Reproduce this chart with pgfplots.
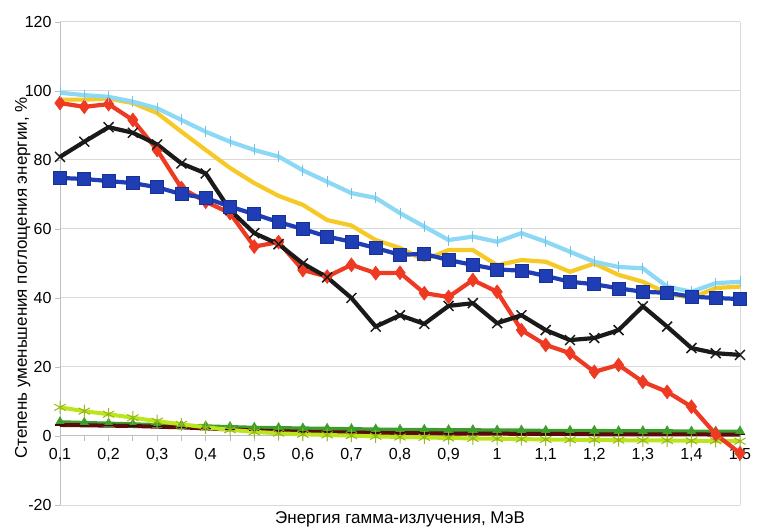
\documentclass[border=0pt]{standalone}
\usepackage{fontspec}
\setmainfont{Liberation Sans}
\usepackage{pgfplots}
\usepackage{pgfplotstable}
\pgfplotsset{compat=1.18}

\definecolor{cLB}{HTML}{8DD8F5}
\definecolor{cLBm}{HTML}{6FC3E6}
\definecolor{cYel}{HTML}{F6C927}
\definecolor{cRed}{HTML}{EE3A22}
\definecolor{cBlk}{HTML}{1A1A1A}
\definecolor{cBlue}{HTML}{1F3DB5}
\definecolor{cGrn}{HTML}{3E9E2B}
\definecolor{cLGr}{HTML}{BBE61E}
\definecolor{cMar}{HTML}{5A0C0C}
\definecolor{gridc}{HTML}{D9D9D9}
\definecolor{axc}{HTML}{BFBFBF}

\pgfplotstableread{
x    lb    yel   blue  red   blk   grn  lgr   mar
0.10 99.5  97.5  74.8  96.5  80.9  4.0  8.3   3.2
0.15 98.8  97.5  74.5  95.4  85.3  3.8  7.2   3.1
0.20 98.3  97.8  73.9  96.2  89.5  3.6  6.3   3.0
0.25 96.9  96.5  73.3  91.6  87.9  3.4  5.3   2.9
0.30 95.0  93.6  72.1  82.9  84.5  3.2  4.3   2.7
0.35 91.6  88.2  70.1  71.9  79.0  3.0  3.4   2.5
0.40 88.2  82.9  69.0  67.9  76.1  2.8  2.5   2.2
0.45 85.3  77.7  66.5  64.6  65.5  2.6  1.8   1.9
0.50 82.9  73.3  64.3  54.9  58.8  2.4  1.2   1.6
0.55 81.0  69.6  62.0  56.2  55.6  2.3  0.8   1.4
0.60 77.0  67.0  60.0  48.1  50.0  2.2  0.5   1.2
0.65 73.7  62.6  57.8  46.2  46.0  2.1  0.3   1.1
0.70 70.4  61.0  56.3  49.6  40.0  2.0  0.1   1.0
0.75 69.0  56.8  54.5  47.2  31.7  1.9  -0.1  0.9
0.80 64.6  54.5  52.5  47.3  35.0  1.8  -0.3  0.8
0.85 60.7  51.0  52.8  41.4  32.5  1.8  -0.4  0.8
0.90 56.8  53.9  51.0  40.3  37.7  1.7  -0.6  0.7
0.95 57.8  53.9  49.6  45.2  38.5  1.7  -0.7  0.7
1.00 56.3  49.5  48.3  41.8  32.7  1.6  -0.8  0.7
1.05 58.8  51.0  47.9  30.7  35.0  1.6  -0.9  0.6
1.10 56.3  50.5  46.4  26.4  30.7  1.5  -1.0  0.6
1.15 53.4  47.6  44.7  24.0  27.8  1.5  -1.1  0.6
1.20 50.5  50.0  44.0  18.6  28.4  1.5  -1.1  0.5
1.25 49.0  46.7  42.8  20.6  30.7  1.4  -1.2  0.5
1.30 48.6  44.7  41.8  15.7  37.6  1.4  -1.3  0.5
1.35 43.3  41.4  41.5  12.8  31.7  1.4  -1.3  0.5
1.40 41.8  40.0  40.4  8.5   25.5  1.3  -1.4  0.5
1.45 44.3  42.9  40.0  0.5   24.0  1.3  -1.4  0.4
1.50 44.7  43.3  39.7  -5.0  23.5  1.3  -1.5  0.4
}\data

\begin{document}
\fontsize{16pt}{19pt}\selectfont
\begin{tikzpicture}
\path[use as bounding box] (0,0) rectangle (757pt,527pt);
\begin{axis}[
  scale only axis, width=680pt, height=483pt,
  anchor=south west, at={(60pt,22pt)},
  xmin=0.1, xmax=1.5, ymin=-20, ymax=120,
  clip=false,
  axis x line*=middle, axis y line*=left,
  hide obscured x ticks=false, hide obscured y ticks=false,
  axis line style={axc, line width=1pt},
  xtick={0.1,0.2,0.3,0.4,0.5,0.6,0.7,0.8,0.9,1,1.1,1.2,1.3,1.4,1.5},
  minor xtick={0.15,0.25,0.35,0.45,0.55,0.65,0.75,0.85,0.95,1.05,1.15,1.25,1.35,1.45},
  ytick={-20,0,20,40,60,80,100,120},
  tick align=outside,
  major tick length=5pt, minor tick length=5pt,
  every tick/.style={axc, line width=0.8pt},
  ymajorgrids, major grid style={gridc, line width=1pt},
  extra x ticks={1.5}, extra x tick labels={},
  extra x tick style={grid=major, major grid style={gridc, line width=1pt}, major tick length=0pt},
  /pgf/number format/assume math mode=true,
  /pgf/number format/use comma,
  /pgf/number format/fixed,
  /pgf/number format/precision=1,
  tick label style={font=\fontsize{16pt}{19pt}\selectfont, text=black},
  xticklabel style={yshift=-2pt},
  yticklabel style={xshift=2pt},
  xlabel={Энергия гамма-излучения, МэВ},
  ylabel={Степень уменьшения поглощения энергии, \%},
  xlabel style={at={(axis description cs:0.5,0)}, anchor=north, yshift=-1pt, font=\fontsize{17pt}{20pt}\selectfont},
  ylabel style={at={(axis description cs:0,0.47)}, anchor=south, yshift=24pt, font=\fontsize{17pt}{20pt}\selectfont},
]
% low series
\addplot[cGrn, line width=4pt, mark=triangle*, mark size=5.5pt, mark options={line width=0.5pt, fill=cGrn}] table[x=x, y=grn] {\data};
\addplot[cMar, line width=4pt, mark=-, mark size=5pt, mark options={line width=1.5pt, draw=cMar!70!black}] table[x=x, y=mar] {\data};
\addplot[cLGr, line width=4pt, mark=asterisk, mark size=6.5pt, mark options={line width=1pt, draw=cLGr!80!black}] table[x=x, y=lgr] {\data};
% main series
\addplot[cRed, line width=4.2pt, mark=diamond*, mark size=7pt, mark options={fill=cRed, line width=0.5pt}] table[x=x, y=red] {\data};
\addplot[cBlk, line width=4.2pt, mark=x, mark size=7pt, mark options={line width=1.5pt}] table[x=x, y=blk] {\data};
\addplot[cYel, line width=4.2pt] table[x=x, y=yel] {\data};
\addplot[cLB, line width=4.2pt, mark=|, mark size=5.5pt, mark options={draw=cLBm, line width=1pt}] table[x=x, y=lb] {\data};
\addplot[cBlue, line width=4.2pt, mark=square*, mark size=6.5pt, mark options={fill=cBlue, draw=cBlue!80!black, line width=0.6pt}] table[x=x, y=blue] {\data};
\end{axis}
\end{tikzpicture}
\end{document}
